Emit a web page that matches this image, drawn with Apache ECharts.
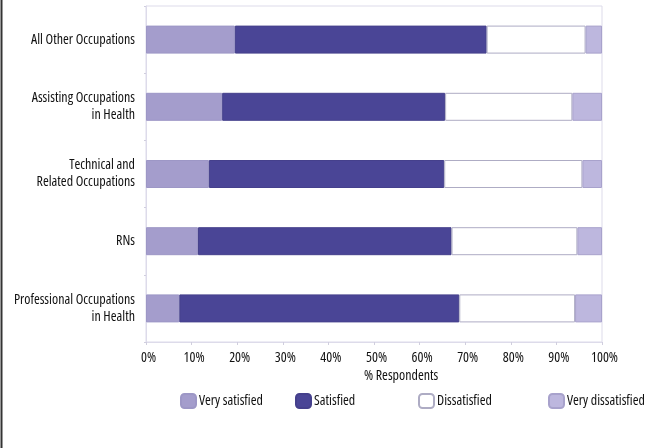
<!DOCTYPE html>
<html><head><meta charset="utf-8">
<script src="https://cdn.jsdelivr.net/npm/echarts@6/dist/echarts.min.js"></script>
<style>html,body{margin:0;padding:0;background:#fff}#c{width:669px;height:448px}</style>
</head><body><div id="c"></div>
<script>
const categories = ["All Other Occupations", "Assisting Occupations\nin Health", "Technical and\nRelated Occupations", "RNs", "Professional Occupations\nin Health"];
const verySatisfied = [19.5, 16.7, 13.8, 11.4, 7.3];
const satisfied = [55.2, 48.9, 51.6, 55.6, 61.4];
const dissatisfied = [21.7, 27.9, 30.3, 27.6, 25.4];
const veryDissatisfied = [3.6, 6.5, 4.3, 5.4, 5.9];
const seriesNames = ["Very satisfied", "Satisfied", "Dissatisfied", "Very dissatisfied"];
const xTicks = [0, 10, 20, 30, 40, 50, 60, 70, 80, 90, 100];
const axisTitle = "% Respondents";

const FONT = '"Open Sans", "Liberation Sans", sans-serif';
const STRETCH = '500 condensed';
const FS = 14;
const chart = echarts.init(document.getElementById('c'), null, {renderer: 'canvas'});
const colors = ['#a49dcc', '#4a4596', '#ffffff', '#bdb7de'];
const borders = ['#9d97c6', '#45408c', '#aeacc4', '#a8a2cc'];
const values = [verySatisfied, satisfied, dissatisfied, veryDissatisfied];
const txt = {fontFamily: FONT, fontWeight: STRETCH, fontSize: FS, color: '#111'};
function legendFor(i, left) {
  return {data: [seriesNames[i]], left: left, top: 388, itemWidth: 15, itemHeight: 14, itemGap: 0,
    textStyle: Object.assign({}, txt, {padding: [0, 0, 0, -2]}), selectedMode: false};
}
chart.setOption({
  animation: false,
  grid: {left: 146, right: 67, top: 6, bottom: 106, containLabel: false, outerBoundsMode: 'none',
    show: true, borderColor: '#dddbea', borderWidth: 1, backgroundColor: 'transparent'},
  legend: [legendFor(0, 175), legendFor(1, 290), legendFor(2, 413), legendFor(3, 543)],
  graphic: [
    {type: 'line', shape: {x1: 1.5, y1: 0, x2: 1.5, y2: 448}, style: {stroke: '#333', lineWidth: 2}},
    {type: 'text', left: 364, top: 369, style: {text: axisTitle, font: STRETCH + ' ' + FS + 'px ' + FONT, fill: '#111'}}
  ],
  xAxis: {
    type: 'value', min: xTicks[0], max: xTicks[xTicks.length - 1], interval: 10,
    axisLine: {show: true, lineStyle: {color: '#dddbea'}},
    axisTick: {show: true, length: 3, lineStyle: {color: '#d0cede'}},
    splitLine: {show: false},
    axisLabel: Object.assign({formatter: '{value}%', margin: 9, padding: [0, 0, 0, 5]}, txt)
  },
  yAxis: {
    type: 'category', data: categories, inverse: true,
    axisLine: {show: true, lineStyle: {color: '#dddbea'}},
    axisTick: {show: true, length: 2, lineStyle: {color: '#d0cede'}},
    axisLabel: Object.assign({margin: 11, lineHeight: 17, align: 'right'}, txt)
  },
  series: seriesNames.map((n, i) => ({
    name: n, type: 'bar', stack: 'total', barWidth: 28,
    data: values[i],
    itemStyle: {color: colors[i], borderColor: borders[i], borderWidth: 1},
    emphasis: {disabled: true}
  }))
});
</script></body></html>
